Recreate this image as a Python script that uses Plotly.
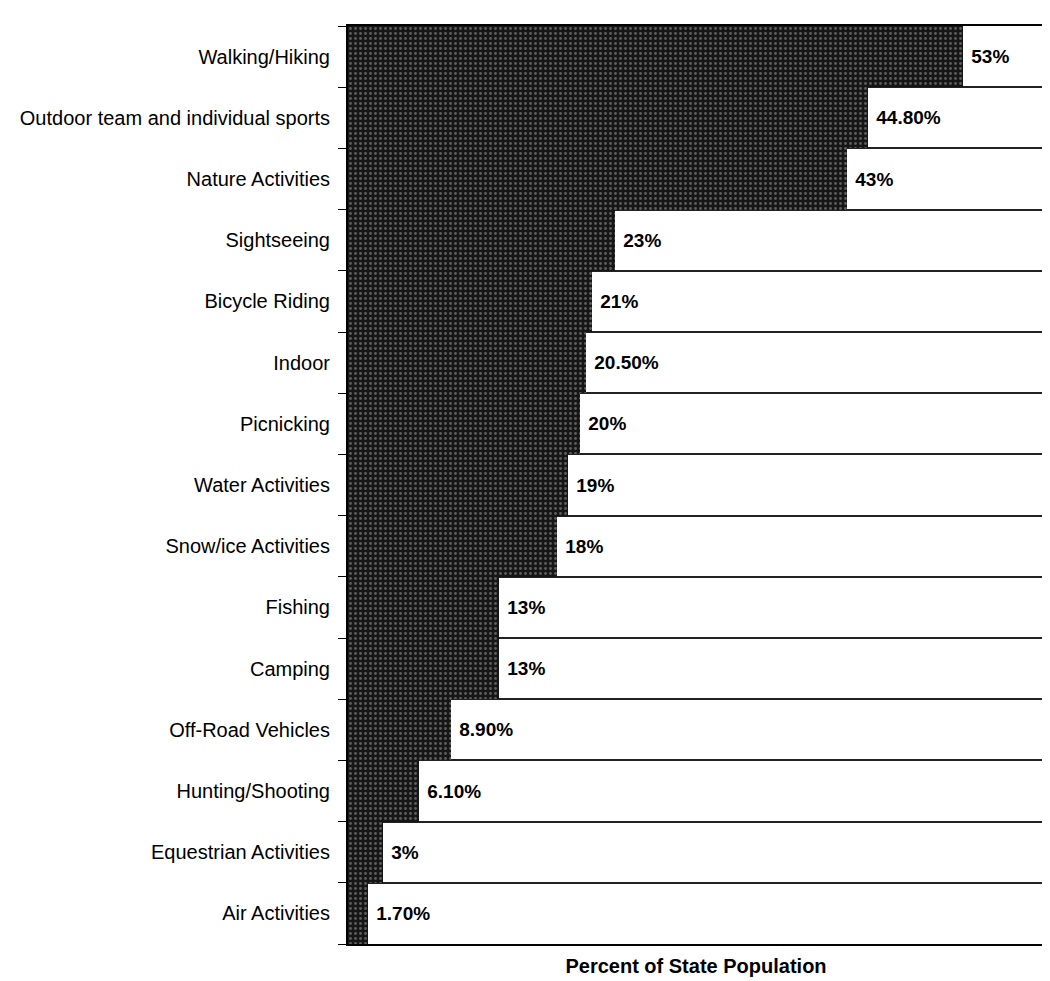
import plotly.graph_objects as go

activities = [
    "Walking/Hiking",
    "Outdoor team and individual sports",
    "Nature Activities",
    "Sightseeing",
    "Bicycle Riding",
    "Indoor",
    "Picnicking",
    "Water Activities",
    "Snow/ice Activities",
    "Fishing",
    "Camping",
    "Off-Road Vehicles",
    "Hunting/Shooting",
    "Equestrian Activities",
    "Air Activities",
]
percent = [53, 44.8, 43, 23, 21, 20.5, 20, 19, 18, 13, 13, 8.9, 6.1, 3, 1.7]
bar_labels = ["53%", "44.80%", "43%", "23%", "21%", "20.50%", "20%", "19%",
              "18%", "13%", "13%", "8.90%", "6.10%", "3%", "1.70%"]

ypos = list(range(len(activities)))
boundaries = [i + 0.5 for i in range(-1, len(activities))]

fig = go.Figure(
    go.Bar(
        x=percent,
        y=ypos,
        orientation="h",
        text=[" " + t for t in bar_labels],
        textposition="outside",
        textfont=dict(family="Liberation Sans, Arial", size=19, color="black", weight="bold"),
        cliponaxis=False,
        marker=dict(
            color="#161616",
            line=dict(width=0),
            pattern=dict(shape=".", fgcolor="#5e5e5e", bgcolor="#161616",
                         size=5, solidity=0.25, fillmode="replace"),
        ),
        hoverinfo="skip",
    )
)

fig.update_layout(
    width=1050,
    height=981,
    margin=dict(l=340, r=12, t=18, b=45),
    paper_bgcolor="white",
    plot_bgcolor="white",
    bargap=0,
    showlegend=False,
    font=dict(family="Liberation Sans, Arial", size=20, color="black"),
)

fig.update_xaxes(
    range=[0, 60],
    showticklabels=False,
    showgrid=False,
    zeroline=False,
    ticks="",
    showline=True,
    linecolor="black",
    linewidth=2,
    mirror=True,
    title=dict(text="<b>Percent of State Population</b>", standoff=14,
               font=dict(size=20)),
)

fig.update_yaxes(
    range=[len(activities) - 0.5, -0.5],
    tickmode="array",
    tickvals=ypos,
    ticktext=activities,
    ticks="",
    showgrid=False,
    zeroline=False,
    showline=True,
    linecolor="black",
    linewidth=2,
    mirror=True,
    ticklabelstandoff=12,
    minor=dict(
        tickmode="array",
        tickvals=boundaries,
        ticks="outside",
        ticklen=8,
        tickcolor="black",
        showgrid=True,
        gridcolor="#222222",
        gridwidth=1.5,
    ),
)

fig.write_html("out.html")
